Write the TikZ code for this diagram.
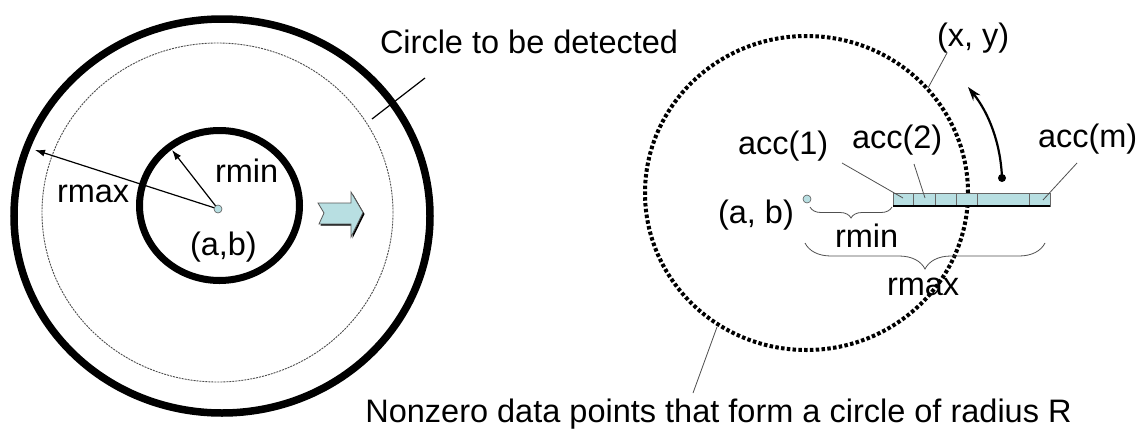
\documentclass[tikz,border=0pt]{standalone}
\usepackage{fontspec}
\setmainfont{Liberation Sans}
\usetikzlibrary{arrows.meta,decorations.pathreplacing}
\definecolor{accfill}{HTML}{B8DFE2}
\definecolor{leadgray}{HTML}{505050}

\begin{document}
\begin{tikzpicture}[x=1pt,y=-1pt,
  lbl/.style={inner sep=0pt,outer sep=0pt,font=\fontsize{32.5}{39}\selectfont},
  thickring/.style={line width=7.5pt},
  leader/.style={draw=leadgray,line width=0.8pt},
  radius arrow/.style={line width=1.2pt,-{Latex[length=10pt,width=7pt]}},
  bracestyle/.style={draw=leadgray,line width=0.8pt,decorate,decoration={brace,amplitude=#1}},
  cell/.style={draw=gray!80!black,line width=0.6pt,fill=accfill},
  centre dot/.style={circle,draw=gray!70!black,line width=0.6pt,fill=accfill,inner sep=0pt,minimum size=8pt},
]
\useasboundingbox (0,0) rectangle (1144,429);

% ---------- left: search ring between rmin and rmax ----------
\draw[thickring] (222,216) ellipse [x radius=208pt, y radius=197pt];
\draw[gray!60!black, line width=0.9pt, dash pattern=on 2pt off 1pt]
  (217.5,212.5) ellipse [x radius=175.5pt, y radius=169.5pt];
\draw[thickring, line width=7pt] (219.5,205.5) ellipse [x radius=80pt, y radius=75pt];

\coordinate (c1pos) at (218,209);
\coordinate (rmaxend) at (35,150);
\coordinate (rminend) at (172,150);
\draw[radius arrow] (c1pos) -- (rmaxend);
\draw[radius arrow] (c1pos) -- (rminend);
\node[centre dot] (c1) at (c1pos) {};

\node[lbl,anchor=base west] (rmaxL) at (57,202) {rmax};
\node[lbl,anchor=base west] (rminL) at (215,182) {rmin};
\node[lbl,anchor=base west] (abL) at (190,255) {(a,b)};

\node[lbl,anchor=base west] (detect) at (380,53) {Circle to be detected};
\coordinate (detectA) at (425,78);
\coordinate (detectB) at (372,119);
\draw[line width=1.2pt] (detectA) -- (detectB);

% block arrow with a small drop shadow
\fill[black] ([shift={(1.5,1.5)}]318,203) -- ++(6,10) -- ++(-5,11) -- ++(32,0)
  -- ++(0,13) -- ++(12,-24.5) -- ++(-12,-20.5) -- ++(0,11) -- cycle;
\draw[fill=accfill, draw=gray!70!black, line width=0.8pt]
  (318,203) -- (324,213) -- (319,224) -- (351,224) -- (351,237)
  -- (363,212.5) -- (351,192) -- (351,203) -- cycle;

% ---------- right: accumulator along a ray ----------
\draw[line width=4pt, dash pattern=on 3.5pt off 2.3pt]
  (806.5,193) ellipse [x radius=161.5pt, y radius=157pt];

\foreach \xa/\xb in {893/913, 913/935, 935/956, 956/977, 977/1029, 1029/1050}
  \draw[cell] (\xa,193) rectangle (\xb,206);
\draw[line width=2pt] (893,206) -- (1050,206);

\node[centre dot] (c2) at (807,199) {};

\node[lbl,anchor=base west] (xy) at (937,46) {(x, y)};
\node[lbl,anchor=base west] (acc1) at (738,154) {acc(1)};
\node[lbl,anchor=base west] (acc2) at (852,148) {acc(2)};
\node[lbl,anchor=base west] (accm) at (1038,147) {acc(m)};
\node[lbl,anchor=base west] (abR) at (718,223) {(a, b)};
\node[lbl,anchor=base west] (rminR) at (835,247) {rmin};
\node[lbl,anchor=base west] (rmaxR) at (887,295) {rmax};
\node[lbl,anchor=base] (nonzero) at (718.5,422) {Nonzero data points that form a circle of radius R};

% leader lines
\coordinate (acc1a) at (842,163); \coordinate (acc1b) at (903,198);
\coordinate (acc2a) at (914,164); \coordinate (acc2b) at (925,198);
\coordinate (accma) at (1077,163); \coordinate (accmb) at (1043,200);
\coordinate (xya) at (947,53); \coordinate (xyb) at (928,88);
\coordinate (nza) at (717,327); \coordinate (nzb) at (693,393);
\draw[leader] (acc1a) -- (acc1b);
\draw[leader] (acc2a) -- (acc2b);
\draw[leader] (accma) -- (accmb);
\draw[leader] (xya) -- (xyb);
\draw[leader] (nza) -- (nzb);

% braces for rmin and rmax
\draw[bracestyle=11pt] (892,207) -- (810,207);
\draw[bracestyle=26pt] (1045,243) -- (805,243);

% sweeping arrow
\coordinate (swingA) at (1002,178);
\coordinate (swingB) at (968,87);
\draw[line width=2.2pt,-{Stealth[length=14pt,width=9pt]}]
  (swingA) .. controls (1000.7,144) and (989.3,113.6) .. (swingB);
\fill (swingA) circle (4pt);
\end{tikzpicture}
\end{document}
